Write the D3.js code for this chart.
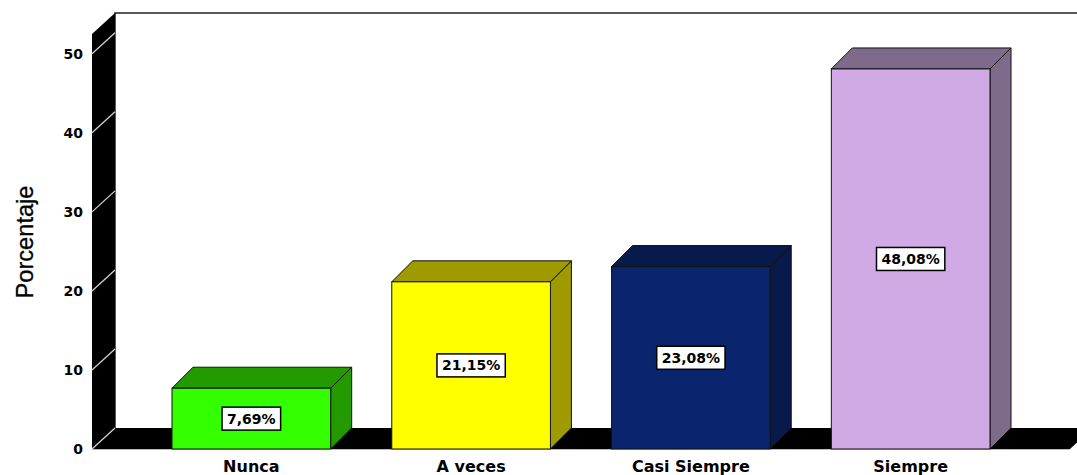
<!DOCTYPE html>
<html>
<head>
<meta charset="utf-8">
<script src="https://cdn.jsdelivr.net/npm/d3@7"></script>
<style>
  html, body { margin: 0; padding: 0; background: #fff; }
  svg { display: block; }
</style>
</head>
<body>
<svg id="chart" width="1077" height="475"></svg>
<script>
// Categories and percentages
const categories = ["Nunca", "A veces", "Casi Siempre", "Siempre"];
const percentages = [7.69, 21.15, 23.08, 48.08];
const valueLabels = ["7,69%", "21,15%", "23,08%", "48,08%"];
const frontColors = ["#33ff00", "#ffff00", "#0a246e", "#d0aae4"];
const shadeColors = ["#229a00", "#9e9a00", "#071a4b", "#7e6a8a"];
const yTicks = [0, 10, 20, 30, 40, 50];
const yTitle = "Porcentaje";

(function () {
  const svg = d3.select("#chart");

  // Plot geometry
  const plotLeft = 92, plotRight = 1070, plotBase = 449, plotTop = 34;
  const wallDX = 23, wallDY = -21;   // depth of the walls
  const barDX = 21, barDY = -21;     // depth of the bars

  const x = d3.scaleBand()
    .domain(categories)
    .range([plotLeft, plotRight])
    .paddingInner(0.278)
    .paddingOuter(0.364);

  const y = d3.scaleLinear()
    .domain([0, 52.5])
    .range([plotBase, plotTop]);

  const line = d3.line();

  // Back wall edges
  svg.append("path")
    .attr("d", line([[plotLeft + wallDX, y(0) + wallDY], [plotLeft + wallDX, plotTop + wallDY], [plotRight + wallDX, plotTop + wallDY]]))
    .attr("fill", "none")
    .attr("stroke", "#222")
    .attr("stroke-width", 1.5);

  // Floor slab
  svg.append("path")
    .attr("d", line([[plotLeft, y(0)], [plotRight, y(0)], [plotRight + wallDX, y(0) + wallDY], [plotLeft + wallDX, y(0) + wallDY]]) + "Z")
    .attr("fill", "#000");
  svg.append("line")
    .attr("x1", plotLeft).attr("x2", plotRight)
    .attr("y1", y(0) + 0.5).attr("y2", y(0) + 0.5)
    .attr("stroke", "#bbb").attr("stroke-width", 1);

  // Left wall
  svg.append("path")
    .attr("d", line([[plotLeft, y(0)], [plotLeft, plotTop], [plotLeft + wallDX, plotTop + wallDY], [plotLeft + wallDX, y(0) + wallDY]]) + "Z")
    .attr("fill", "#000");

  // Tick marks drawn across the left wall
  svg.append("g")
    .selectAll("line")
    .data(yTicks)
    .join("line")
    .attr("x1", plotLeft).attr("y1", d => y(d))
    .attr("x2", plotLeft + wallDX).attr("y2", d => y(d) + wallDY)
    .attr("stroke", "#d0d0d0")
    .attr("stroke-width", 1.3);

  // Tick labels
  svg.append("g")
    .selectAll("text")
    .data(yTicks)
    .join("text")
    .attr("x", plotLeft - 9)
    .attr("y", d => y(d))
    .attr("dy", "0.36em")
    .attr("text-anchor", "end")
    .attr("font-family", "DejaVu Sans, sans-serif")
    .attr("font-weight", "bold")
    .attr("font-size", 14)
    .attr("fill", "#000")
    .text(d => d);

  // Axis title
  svg.append("text")
    .attr("transform", "translate(33,242) rotate(-90)")
    .attr("text-anchor", "middle")
    .attr("font-family", "Liberation Sans, Arial, sans-serif")
    .attr("font-size", 24)
    .attr("textLength", 113)
    .attr("lengthAdjust", "spacingAndGlyphs")
    .attr("fill", "#000")
    .attr("stroke", "#000")
    .attr("stroke-width", 0.3)
    .text(yTitle);

  // 3D bars
  const data = categories.map((c, i) => ({
    cat: c, value: percentages[i], label: valueLabels[i],
    front: frontColors[i], shade: shadeColors[i]
  }));

  const bars = svg.append("g").selectAll("g")
    .data(data)
    .join("g");

  bars.append("path") // side face
    .attr("d", d => {
      const x1 = x(d.cat) + x.bandwidth(), yt = y(d.value), yb = y(0);
      return line([[x1, yt], [x1 + barDX, yt + barDY], [x1 + barDX, yb + barDY], [x1, yb]]) + "Z";
    })
    .attr("fill", d => d.shade)
    .attr("stroke", "#111")
    .attr("stroke-width", 1)
    .attr("stroke-linejoin", "round");

  bars.append("path") // top face
    .attr("d", d => {
      const x0 = x(d.cat), x1 = x0 + x.bandwidth(), yt = y(d.value);
      return line([[x0, yt], [x0 + barDX, yt + barDY], [x1 + barDX, yt + barDY], [x1, yt]]) + "Z";
    })
    .attr("fill", d => d.shade)
    .attr("stroke", "#111")
    .attr("stroke-width", 1)
    .attr("stroke-linejoin", "round");

  bars.append("rect") // front face
    .attr("x", d => x(d.cat))
    .attr("y", d => y(d.value))
    .attr("width", x.bandwidth())
    .attr("height", d => y(0) - y(d.value))
    .attr("fill", d => d.front)
    .attr("stroke", "#111")
    .attr("stroke-width", 1);

  // Value labels in boxes at mid-height of each bar
  bars.each(function (d) {
    const g = d3.select(this);
    const cx = x(d.cat) + x.bandwidth() / 2;
    const cy = (y(d.value) + y(0)) / 2;
    const box = g.append("rect");
    const t = g.append("text")
      .attr("x", cx)
      .attr("y", cy)
      .attr("dy", "0.36em")
      .attr("text-anchor", "middle")
      .attr("font-family", "DejaVu Sans, sans-serif")
      .attr("font-weight", "bold")
      .attr("font-size", 14)
      .attr("fill", "#000")
      .text(d.label);
    const w = t.node().getComputedTextLength() + 10;
    const h = 23;
    box.attr("x", cx - w / 2)
      .attr("y", cy - h / 2)
      .attr("width", w)
      .attr("height", h)
      .attr("fill", "#fff")
      .attr("stroke", "#000")
      .attr("stroke-width", 1.5);
  });

  // Category labels
  svg.append("g")
    .selectAll("text")
    .data(categories)
    .join("text")
    .attr("x", d => x(d) + x.bandwidth() / 2)
    .attr("y", 472)
    .attr("text-anchor", "middle")
    .attr("font-family", "DejaVu Sans, sans-serif")
    .attr("font-weight", "bold")
    .attr("font-size", 16)
    .attr("fill", "#000")
    .text(d => d);
})();
</script>
</body>
</html>
